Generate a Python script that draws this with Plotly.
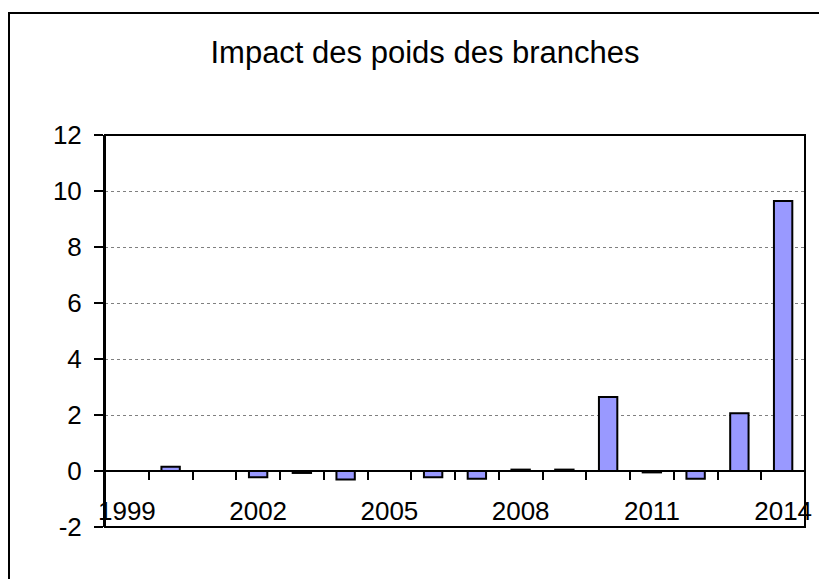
import plotly.graph_objects as go

years = list(range(1999, 2015))
values = [0, 0.15, 0, -0.22, -0.07, -0.30, 0, -0.22, -0.28, 0.05, 0.05, 2.64, -0.05, -0.28, 2.06, 9.64]
label_years = [1999, 2002, 2005, 2008, 2011, 2014]
y_ticks = [-2, 0, 2, 4, 6, 8, 10, 12]
title_text = "Impact des poids des branches"

FONT = "Liberation Sans, Arial, sans-serif"

# page body has an 8px margin: figure is shrunk and offset accordingly
W, H = 819, 571
OFF = 8
PL, PR, PT, PB = 105 - OFF, 805 - OFF, 135 - OFF, 527 - OFF
pw, ph = PR - PL, PB - PT

fig = go.Figure()
fig.add_trace(go.Bar(
    x=years, y=values, width=0.42,
    marker=dict(color="#9999FF", line=dict(color="black", width=2)),
))

boundaries = [y - 0.5 for y in years] + [years[-1] + 0.5]

fig.update_layout(
    width=W, height=H,
    margin=dict(l=PL, r=W - PR, t=PT, b=H - PB),
    paper_bgcolor="white", plot_bgcolor="white",
    showlegend=False,
    font=dict(family=FONT, color="black", size=26),
    title=dict(text=title_text, xref="container", x=(425 - OFF) / W, xanchor="center",
               yref="container", y=1 - (52 - OFF) / H, yanchor="middle",
               font=dict(family=FONT, size=31, color="black")),
    xaxis=dict(range=[years[0]-0.5, years[-1]+0.5], tickmode="array",
               tickvals=label_years, ticktext=[str(v) for v in label_years],
               ticks="", showgrid=False, zeroline=False,
               showline=True, linecolor="black", linewidth=2,
               anchor="free", position=2/14,
               ticklabelstandoff=17,
               tickfont=dict(family=FONT, size=26, color="black"),
               minor=dict(tickmode="array", tickvals=boundaries, ticks="outside",
                          ticklen=8, tickwidth=2, tickcolor="black", showgrid=False)),
    yaxis=dict(range=[-2, 12], tickmode="array", tickvals=y_ticks,
               ticktext=[str(v) for v in y_ticks],
               ticks="outside", ticklen=9,
               tickwidth=2, tickcolor="black",
               showline=True, linecolor="black", linewidth=2,
               showgrid=True, gridcolor="#808080", gridwidth=1, griddash="dot",
               zeroline=False, ticklabelstandoff=7,
               tickfont=dict(family=FONT, size=26, color="black")),
    shapes=[
        dict(type="rect", xref="paper", yref="paper", x0=0, x1=1, y0=0, y1=1,
             line=dict(color="black", width=2), layer="above"),
        dict(type="rect", xref="paper", yref="paper",
             x0=(9 - OFF - PL) / pw, x1=(880 - OFF - PL) / pw,
             y0=(PB - 640) / ph, y1=(PB - (13 - OFF)) / ph,
             line=dict(color="black", width=2), layer="above"),
    ],
)

fig.write_html("out.html")
